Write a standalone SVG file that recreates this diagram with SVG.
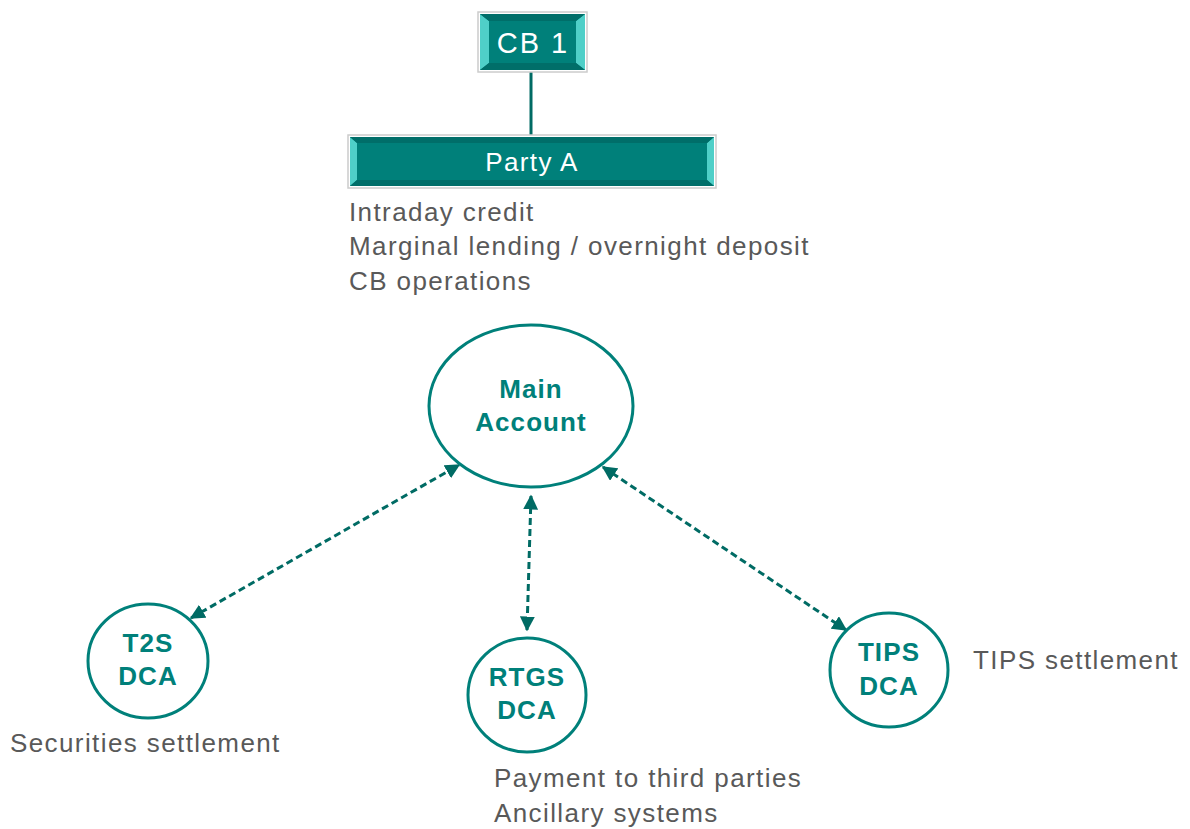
<svg xmlns="http://www.w3.org/2000/svg" width="1190" height="829" viewBox="0 0 1190 829">
<style>
.lbl{font-family:"Liberation Sans",Arial,sans-serif;font-size:26px;letter-spacing:1.4px;fill:#595959}
.nd{font-family:"Liberation Sans",Arial,sans-serif;font-size:26px;letter-spacing:1.1px;font-weight:bold;fill:#00807A;text-anchor:middle}
.wt{font-family:"Liberation Sans",Arial,sans-serif;fill:#ffffff;text-anchor:middle}
.acc{fill:#ffffff;stroke:#00807A;stroke-width:3}
.conn{stroke:#006B64;stroke-width:3;fill:none;stroke-dasharray:7,4}
</style>
<defs>
<marker id="ah" viewBox="0 0 10 10" refX="9" refY="5" markerWidth="5" markerHeight="5" orient="auto-start-reverse" markerUnits="strokeWidth">
<path d="M0,0 L10,5 L0,10 z" fill="#006B64"/>
</marker>
</defs>
<rect width="1190" height="829" fill="#ffffff"/>
<g id="connectors">
<line x1="531" y1="70" x2="531" y2="137" stroke="#006B64" stroke-width="3"/>
<line class="conn" x1="191" y1="618" x2="459" y2="465" marker-start="url(#ah)" marker-end="url(#ah)"/>
<line class="conn" x1="531" y1="496" x2="527" y2="630" marker-start="url(#ah)" marker-end="url(#ah)"/>
<line class="conn" x1="603" y1="467" x2="846" y2="630" marker-start="url(#ah)" marker-end="url(#ah)"/>
</g>
<g id="cb1">
<rect x="478" y="12" width="109" height="60" fill="#ffffff" stroke="#cccccc" stroke-width="1.5"/>
<rect x="480" y="14" width="105" height="56" fill="#00807A"/>
<polygon points="480,14 489,21 489,63 480,70" fill="#4FCFC8"/>
<polygon points="585,14 576,21 576,63 585,70" fill="#4FCFC8"/>
<polygon points="480,14 585,14 576,21 489,21" fill="#006E69"/>
<polygon points="480,70 585,70 576,63 489,63" fill="#006E69"/>
<rect x="489" y="21" width="87" height="42" fill="#00807A"/>
<text class="wt" x="533" y="53" font-size="29" letter-spacing="2">CB 1</text>
</g>
<g id="partyA">
<rect x="348" y="135" width="368" height="53" fill="#ffffff" stroke="#cccccc" stroke-width="1.5"/>
<rect x="350" y="137" width="364" height="49" fill="#00807A"/>
<polygon points="350,137 357,143 357,180 350,186" fill="#4FCFC8"/>
<polygon points="714,137 707,143 707,180 714,186" fill="#4FCFC8"/>
<polygon points="350,137 714,137 707,143 357,143" fill="#006E69"/>
<polygon points="350,186 714,186 707,180 357,180" fill="#006E69"/>
<rect x="357" y="143" width="350" height="37" fill="#00807A"/>
<text class="wt" x="532" y="171" font-size="26" letter-spacing="1.4">Party A</text>
</g>
<g id="partyA-notes">
<text class="lbl" x="349" y="221">Intraday credit</text>
<text class="lbl" x="349" y="255">Marginal lending / overnight deposit</text>
<text class="lbl" x="349" y="290">CB operations</text>
</g>
<g id="main-account">
<ellipse class="acc" cx="531" cy="406" rx="102" ry="81"/>
<text class="nd" x="531" y="398">Main</text>
<text class="nd" x="531" y="431">Account</text>
</g>
<g id="t2s-dca">
<ellipse class="acc" cx="148" cy="661" rx="60" ry="57"/>
<text class="nd" x="148" y="652">T2S</text>
<text class="nd" x="148" y="685">DCA</text>
</g>
<g id="rtgs-dca">
<ellipse class="acc" cx="527" cy="695" rx="59" ry="57"/>
<text class="nd" x="527" y="686">RTGS</text>
<text class="nd" x="527" y="719">DCA</text>
</g>
<g id="tips-dca">
<ellipse class="acc" cx="889" cy="670" rx="59" ry="57"/>
<text class="nd" x="889" y="661">TIPS</text>
<text class="nd" x="889" y="695">DCA</text>
</g>
<g id="notes">
<text class="lbl" x="10" y="752">Securities settlement</text>
<text class="lbl" x="494" y="787">Payment to third parties</text>
<text class="lbl" x="494" y="822">Ancillary systems</text>
<text class="lbl" x="973" y="669">TIPS settlement</text>
</g>
</svg>
